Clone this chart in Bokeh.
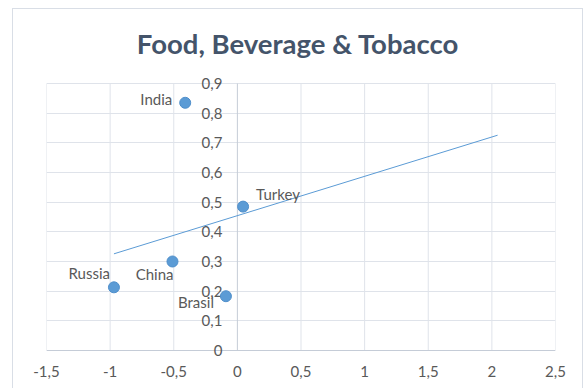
import numpy as np
from bokeh.plotting import figure
from bokeh.models import FixedTicker, ColumnDataSource
from bokeh.core.properties import value
from bokeh.embed import file_html
from bokeh.resources import INLINE

# ---- data ----
countries = ["India", "Russia", "China", "Brasil", "Turkey"]
x_vals = [-0.41, -0.97, -0.51, -0.09, 0.045]
y_vals = [0.835, 0.213, 0.30, 0.183, 0.485]
x_ticks = [-1.5, -1, -0.5, 0, 0.5, 1, 1.5, 2, 2.5]
x_tick_labels = ["-1,5", "-1", "-0,5", "0", "0,5", "1", "1,5", "2", "2,5"]
y_ticks = [0, 0.1, 0.2, 0.3, 0.4, 0.5, 0.6, 0.7, 0.8, 0.9]
y_tick_labels = ["0", "0,1", "0,2", "0,3", "0,4", "0,5", "0,6", "0,7", "0,8", "0,9"]
trend_forward = 2.0  # trendline forecast forward (x units)
title = "Food, Beverage & Tobacco"

# label placement (styles)
lab_dx = [-13, -4, 1, -12, 13]
lab_dy = [-4, -14, 12, 6, -13]
lab_align = ["right", "right", "right", "right", "left"]

FONT = "Lato"
GRID = "#dfe3ea"
AXIS = "#c5ccd7"
TXT = "#595959"
DOT = "#5b9bd5"

X0, X1 = x_ticks[0], x_ticks[-1]
Y0, Y1 = y_ticks[0], y_ticks[-1]
# frame extends a little below y=0 and up to the top of the card (for title)
px_per_y = 267 / (Y1 - Y0)
y_lo = Y0 - 9 / px_per_y
y_hi = y_lo + 350 / px_per_y

p = figure(width=571, height=380, x_range=(X0, X1), y_range=(y_lo, y_hi),
           output_backend="svg", toolbar_location=None,
           min_border_left=33, min_border_right=29,
           min_border_top=0, min_border_bottom=30)
p.margin = (8, 0, 0, 12)
p.styles = {"border": "1px solid #d9dee6", "border-bottom": "none"}
p.outline_line_color = None
p.background_fill_color = "white"
p.border_fill_color = "white"

# horizontal grid lines
p.ygrid.ticker = FixedTicker(ticks=y_ticks[1:])
p.ygrid.grid_line_color = GRID
p.ygrid.grid_line_width = 1
# vertical grid lines only between 0 and 0.9
p.xgrid.visible = False
gx = [t for t in x_ticks if t != 0]
p.segment(x0=gx, y0=[Y0] * len(gx), x1=gx, y1=[Y1] * len(gx), line_color=GRID, line_width=1)

# axis lines: y=0 (horizontal) and x=0 (vertical)
p.segment(x0=[X0, 0], y0=[0, Y0], x1=[X1, 0], y1=[0, Y1], line_color=AXIS, line_width=1)

# x axis (bottom)
p.xaxis.ticker = FixedTicker(ticks=x_ticks)
p.xaxis.major_label_overrides = {t: l for t, l in zip(x_ticks, x_tick_labels)}
p.xaxis.axis_line_color = None
p.xaxis.major_tick_line_color = None
p.xaxis.minor_tick_line_color = None
p.xaxis.major_label_text_font = FONT
p.xaxis.major_label_text_font_size = "15px"
p.xaxis.major_label_text_color = TXT
p.xaxis.major_label_standoff = 0

# y tick labels next to the x=0 axis
p.yaxis.visible = False
p.text(x=[0] * len(y_ticks), y=y_ticks, text=y_tick_labels,
       text_font=value(FONT), text_font_size="15px", text_color=TXT,
       text_align="right", text_baseline="middle", x_offset=-15)

# trendline (linear least squares)
slope, intercept = np.polyfit(x_vals, y_vals, 1)
tx = np.array([min(x_vals), max(x_vals) + trend_forward])
p.line(tx, slope * tx + intercept, line_color=DOT, line_width=1)

# points
p.scatter(x_vals, y_vals, size=11, fill_color=DOT, line_color="#4f8fcb", line_width=1)

# data labels
src = ColumnDataSource(dict(x=x_vals, y=y_vals, t=countries, dx=lab_dx, dy=lab_dy, al=lab_align))
p.text(x="x", y="y", text="t", x_offset="dx", y_offset="dy", text_align="al",
       text_baseline="middle", text_font=value(FONT), text_font_size="15px",
       text_color=TXT, source=src)

# title (drawn as text in the top part of the frame)
p.text(x=[(X0 + X1) / 2], y=[Y1], text=[title], y_offset=-40,
       text_font=value(FONT), text_font_size="27.5px", text_font_style="bold",
       text_color="#44546a", text_align="center", text_baseline="alphabetic",
       x_offset=-3)

open("out.html", "w").write(file_html(p, INLINE))
